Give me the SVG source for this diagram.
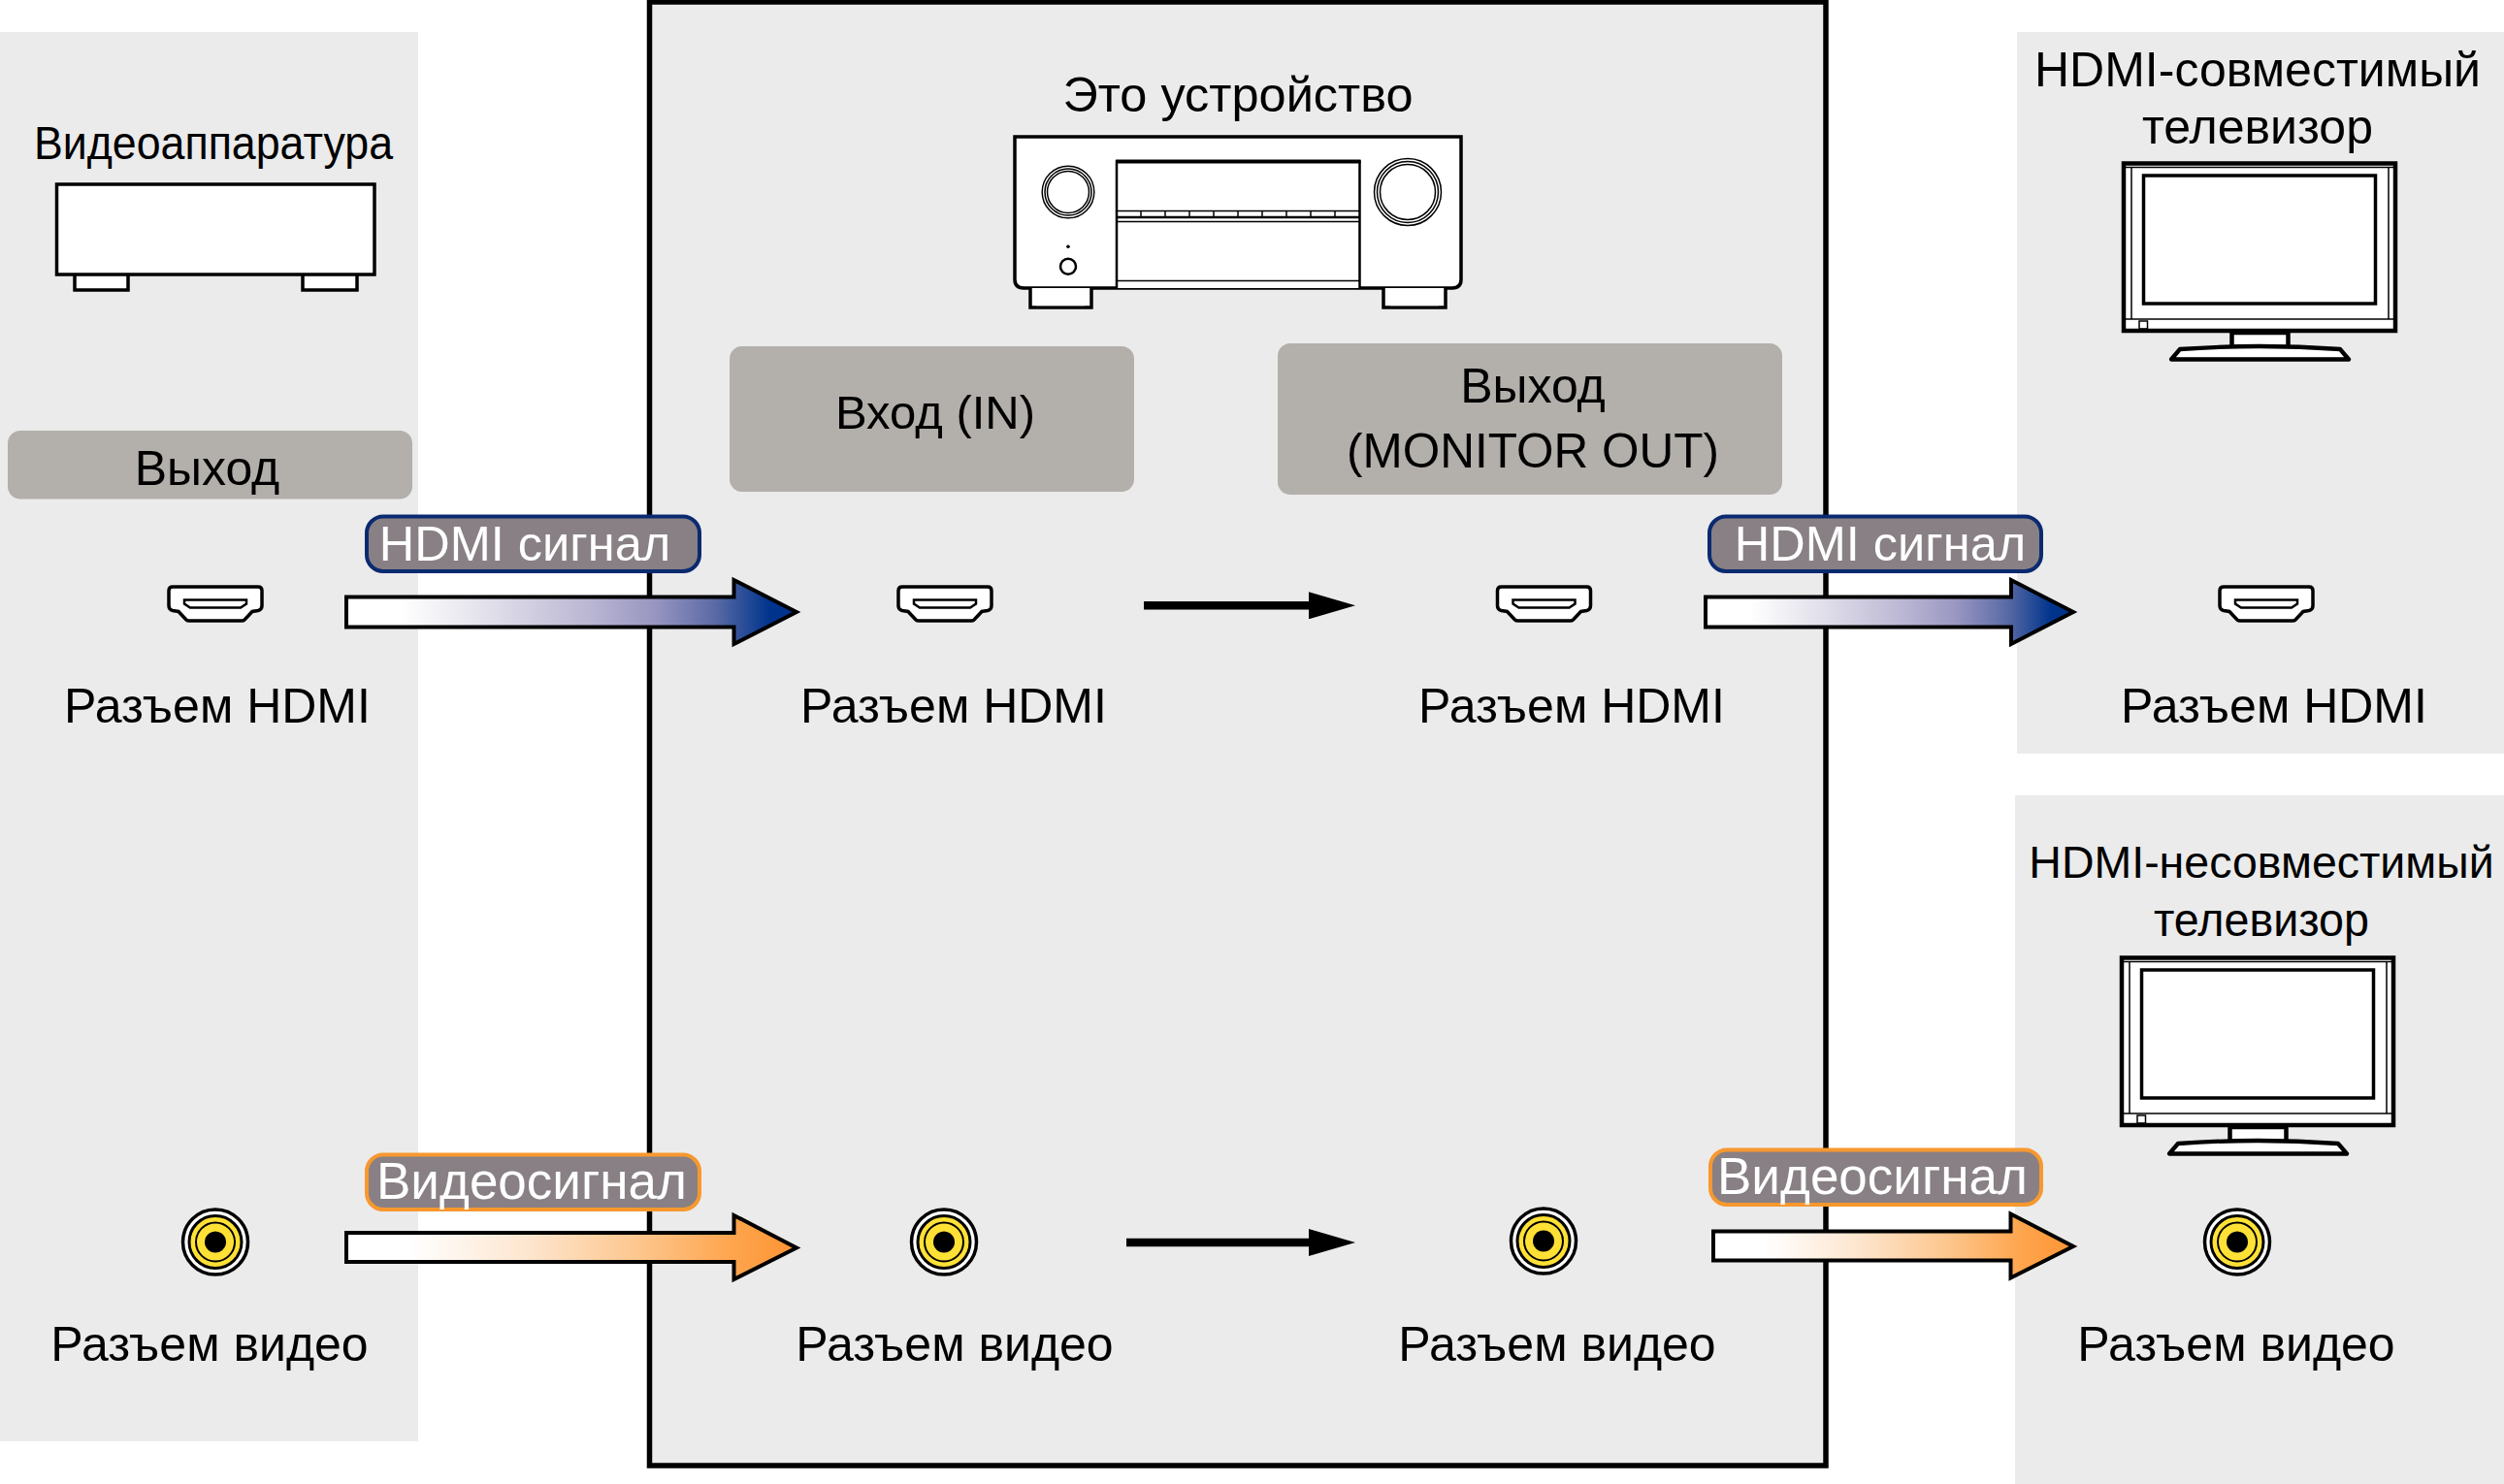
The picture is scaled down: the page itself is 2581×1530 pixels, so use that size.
<svg xmlns="http://www.w3.org/2000/svg" xmlns:xlink="http://www.w3.org/1999/xlink" width="2581" height="1530" viewBox="0 0 2581 1530">
<style>
text{font-family:"Liberation Sans",Arial,sans-serif;font-size:50px;fill:#000;text-anchor:middle}
.panel{fill:#ebebeb}
.gray{fill:#b3afab}
.bdg{fill:#888084;stroke-width:4}
.bdg-h{stroke:#0a2a70}
.bdg-v{stroke:#f7982f}
text.bt{fill:#fff;font-size:50.5px}
text.bv{fill:#fff;font-size:53px}
.big{stroke:#000;stroke-width:4;stroke-linejoin:miter}
.thin{stroke:#000;fill:none;stroke-width:1.5}
.ln{stroke:#000;fill:#fff;stroke-width:3.5}
.sm{stroke:#000;stroke-width:8.5;marker-end:url(#ah)}
</style>
<defs>
<linearGradient id="gh"><stop offset="0.12" stop-color="#fff"/><stop offset="0.32" stop-color="#e0dfea"/><stop offset="0.53" stop-color="#bcb8d4"/><stop offset="0.68" stop-color="#9a97c2"/><stop offset="0.82" stop-color="#5a6aa5"/><stop offset="0.94" stop-color="#00348c"/></linearGradient>
<linearGradient id="gv"><stop offset="0.14" stop-color="#fff"/><stop offset="0.4" stop-color="#fde6cf"/><stop offset="0.65" stop-color="#fdc68d"/><stop offset="0.85" stop-color="#fea64f"/><stop offset="1" stop-color="#fd9333"/></linearGradient>
<marker id="ah" markerUnits="userSpaceOnUse" markerWidth="48" markerHeight="28" refX="0" refY="14" orient="auto" viewBox="0 0 48 28"><polygon points="0,0 48,14 0,28" fill="#000"/></marker>
<g id="hdmi">
<path d="M-44,-17.500H44Q48,-17.500 48,-13.500V2Q48,6 44,7L38,8L30,16.500Q29,17.500 27,17.500H-27Q-29,17.500 -30,16.500L-38,8L-44,7Q-48,6 -48,2V-13.500Q-48,-17.500 -44,-17.500Z" class="ln"/>
<path d="M-32,-4H32V0L26,4H-26L-32,0Z" fill="#fff" stroke="#000" stroke-width="2.500"/>
</g>
<g id="rca">
<circle r="33.500" fill="#fff" stroke="#000" stroke-width="3.500"/>
<circle r="27" fill="#ffe136" stroke="#000" stroke-width="3"/>
<circle r="20" fill="none" stroke="#000" stroke-width="2"/>
<circle r="11" fill="#000"/>
</g>
<g id="tv">
<rect x="2189" y="168.500" width="280" height="172.500" fill="#fff" stroke="#000" stroke-width="4.500"/>
<path d="M2191,172.500H2467M2191,329H2467M2197,172V329M2462,172V329" class="thin"/>
<rect x="2205" y="331" width="8.500" height="8" class="thin"/>
<rect x="2209.500" y="181" width="239" height="132" fill="#fff" stroke="#000" stroke-width="3.500"/>
<rect x="2300.500" y="343" width="58" height="15" fill="#fff" stroke="#000" stroke-width="4.500"/>
<path d="M2238,370.500L2247,360Q2290,357 2329,357Q2370,357 2412,360L2421,370.500Z" fill="#fff" stroke="#000" stroke-width="4.300" stroke-linejoin="round"/>
</g>
</defs>

<g id="panels">
<rect class="panel" x="0" y="33" width="431" height="1453"/>
<rect class="panel" x="2079" y="33" width="502" height="744"/>
<rect class="panel" x="2077" y="820" width="504" height="710"/>
<rect x="669.500" y="2" width="1212.500" height="1509" fill="#ebebeb" stroke="#000" stroke-width="5.500"/>
</g>

<g id="video-device">
<text x="220" y="164" style="font-size:48px" textLength="370" lengthAdjust="spacingAndGlyphs">Видеоаппаратура</text>
<rect x="77" y="280" width="55" height="19" class="ln"/>
<rect x="312" y="280" width="56" height="19" class="ln"/>
<rect x="58.500" y="190" width="327.500" height="93" class="ln"/>
</g>

<g id="this-device">
<text x="1276" y="115" style="font-size:50.500px">Это устройство</text>
<path d="M1046,141H1506V288Q1506,297 1497,297H1055Q1046,297 1046,288Z" class="ln"/>
<path d="M1062,297V317H1125V297M1426,297V317H1490V297" class="ln"/>
<rect x="1068" y="297" width="50" height="18.200" fill="#fff"/>
<rect x="1433" y="297" width="50" height="18.200" fill="#fff"/>
<path d="M1151,297V166.500H1401.500V297" fill="#fff" stroke="#000" stroke-width="2.500"/>
<path d="M1150,166.500H1402.500" stroke="#000" stroke-width="4"/>
<path d="M1151,217.500H1401.500M1151,228.500H1401.500M1151,289.500H1401.500" class="thin"/>
<path d="M1151,224H1401.500" stroke="#000" stroke-width="2.500"/>
<path d="M1176,217.500V224M1201,217.500V224M1226,217.500V224M1251,217.500V224M1276,217.500V224M1301,217.500V224M1326,217.500V224M1351,217.500V224M1376,217.500V224" class="thin"/>
<circle cx="1101" cy="198" r="26.800" class="thin"/><circle cx="1101" cy="198" r="24" class="thin"/><circle cx="1101" cy="198" r="21.500" class="thin"/>
<circle cx="1451" cy="198" r="34.500" class="thin"/><circle cx="1451" cy="198" r="31.500" class="thin"/><circle cx="1451" cy="198" r="28.500" class="thin"/>
<circle cx="1101" cy="254.300" r="1.800"/>
<circle cx="1101" cy="274.700" r="8" fill="#fff" stroke="#000" stroke-width="2.500"/>
</g>

<g id="tv-hdmi">
<text x="2327" y="89">HDMI-совместимый</text>
<text x="2327" y="148">телевизор</text>
<use xlink:href="#tv" href="#tv"/>
</g>
<g id="tv-nonhdmi">
<text x="2331" y="905" style="font-size:46.500px">HDMI-несовместимый</text>
<text x="2331" y="965" style="font-size:48px" textLength="222" lengthAdjust="spacingAndGlyphs">телевизор</text>
<use xlink:href="#tv" href="#tv" transform="translate(-2,819)"/>
</g>

<g id="box-out-left"><rect class="gray" x="8" y="444" width="417" height="70.500" rx="13"/><text x="213.500" y="499.500">Выход</text></g>
<g id="box-in"><rect class="gray" x="752" y="357" width="417" height="150" rx="13"/><text x="964" y="442" style="font-size:49px">Вход (IN)</text></g>
<g id="box-out"><rect class="gray" x="1317" y="354" width="520" height="156" rx="13"/><text x="1580" y="415">Выход</text><text x="1580" y="482" style="font-size:49.500px">(MONITOR OUT)</text></g>

<g id="connectors">
<polygon class="big" fill="url(#gh)" points="357,615.500 756.500,615.500 756.500,598 821,631 756.500,664 756.500,646.500 357,646.500"/>
<polygon class="big" fill="url(#gh)" points="1758,615.500 2073,615.500 2073,598 2137,631 2073,664 2073,646.500 1758,646.500"/>
<polygon class="big" fill="url(#gv)" points="357,1271 756.500,1271 756.500,1253 821,1286.500 756.500,1319 756.500,1301 357,1301"/>
<polygon class="big" fill="url(#gv)" points="1766,1269.500 2072.500,1269.500 2072.500,1251.500 2137,1285 2072.500,1317.500 2072.500,1299.500 1766,1299.500"/>
<line class="sm" x1="1179" y1="624.300" x2="1349" y2="624.300"/>
<line class="sm" x1="1161" y1="1281" x2="1349" y2="1281"/>
</g>

<g id="badge-hdmi-1"><rect class="bdg bdg-h" x="378" y="532.500" width="343" height="56.500" rx="17"/><text class="bt" x="541" y="578">HDMI сигнал</text></g>
<g id="badge-hdmi-2"><rect class="bdg bdg-h" x="1762" y="532.500" width="342" height="56.500" rx="17"/><text class="bt" x="1938" y="578">HDMI сигнал</text></g>
<g id="badge-video-1"><rect class="bdg bdg-v" x="378" y="1190.500" width="343" height="56.500" rx="17"/><text class="bv" x="548" y="1236">Видеосигнал</text></g>
<g id="badge-video-2"><rect class="bdg bdg-v" x="1763" y="1185.500" width="341" height="56.500" rx="17"/><text class="bv" x="1930" y="1231">Видеосигнал</text></g>

<g id="hdmi-source"><use xlink:href="#hdmi" href="#hdmi" x="222" y="622.500"/><text x="224" y="745">Разъем HDMI</text></g>
<g id="hdmi-in"><use xlink:href="#hdmi" href="#hdmi" x="974" y="622.500"/><text x="983" y="745">Разъем HDMI</text></g>
<g id="hdmi-out"><use xlink:href="#hdmi" href="#hdmi" x="1591.500" y="622.500"/><text x="1620" y="745">Разъем HDMI</text></g>
<g id="hdmi-tv"><use xlink:href="#hdmi" href="#hdmi" x="2336" y="622.500"/><text x="2344" y="745">Разъем HDMI</text></g>
<g id="video-source"><use xlink:href="#rca" href="#rca" x="222" y="1280.500"/><text x="216" y="1403">Разъем видео</text></g>
<g id="video-in"><use xlink:href="#rca" href="#rca" x="973" y="1280.500"/><text x="984" y="1403">Разъем видео</text></g>
<g id="video-out"><use xlink:href="#rca" href="#rca" x="1591" y="1279.500"/><text x="1605" y="1403">Разъем видео</text></g>
<g id="video-tv"><use xlink:href="#rca" href="#rca" x="2306" y="1280.500"/><text x="2305" y="1403">Разъем видео</text></g>
</svg>
